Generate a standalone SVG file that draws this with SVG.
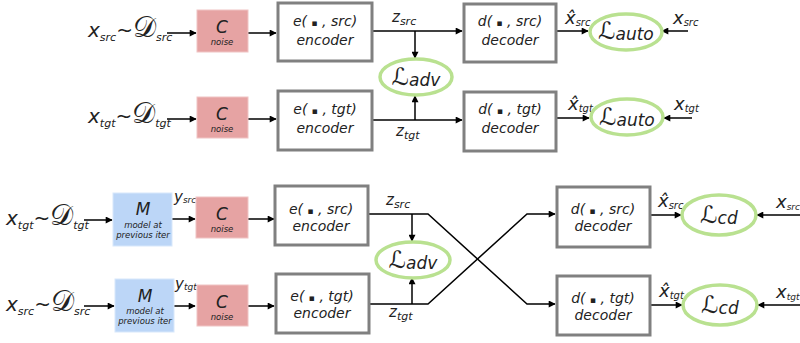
<svg xmlns="http://www.w3.org/2000/svg" width="800" height="343" viewBox="0 0 800 343">
<defs>
<marker id="ah" viewBox="0 0 10 10" refX="9" refY="5" markerWidth="8" markerHeight="7" markerUnits="userSpaceOnUse" orient="auto">
<path d="M0,0 L10,5 L0,10 z" fill="#000"/>
</marker>
<style>
text{font-family:"DejaVu Sans",sans-serif;font-style:oblique;fill:#222}
.box{fill:#fff;stroke:#808080;stroke-width:3}
.noise{fill:#e6a3a3;stroke:#f0c4c4;stroke-width:1}
.model{fill:#bcd6f7;stroke:#d8e8fb;stroke-width:1}
.loss{fill:#fff;stroke:#b9e190;stroke-width:3.5}
.lbl{font-size:14px;text-anchor:middle}
.big{font-size:17px;text-anchor:middle}
.sm{font-size:8.5px;text-anchor:middle}
.tiny{font-size:8.5px;text-anchor:middle}
.inp{font-size:20px}
.sub{font-size:11px}
.scr{font-style:normal;font-size:29px}
.L{font-style:normal;font-size:24px}
.ls{font-size:17px}
.bu{font-size:9px;font-style:normal}
.c{fill:none;stroke:#000;stroke-width:1.5}
.a{marker-end:url(#ah)}
</style>
</defs>

<g id="connectors">
<path class="c a" d="M167,33 H196"/>
<path class="c a" d="M248,33 H276"/>
<path class="c a" d="M372,31 H462"/>
<path class="c a" d="M415,31 V58"/>
<path class="c a" d="M556,31 H588"/>
<path class="c a" d="M688,31 H662"/>
<path class="c a" d="M167,119 H196"/>
<path class="c a" d="M248,119 H276"/>
<path class="c a" d="M372,120 H462"/>
<path class="c a" d="M415,120 V96"/>
<path class="c a" d="M556,118 H589"/>
<path class="c a" d="M692,118 H664"/>
<path class="c a" d="M84,220 H112"/>
<path class="c a" d="M172,219 H195"/>
<path class="c a" d="M248,219 H274"/>
<path class="c a" d="M84,306 H114"/>
<path class="c a" d="M174,306 H195"/>
<path class="c a" d="M248,306 H274"/>
<path class="c a" d="M368,214 H428 L527,304 H555"/>
<path class="c a" d="M368,304 H428 L527,214 H555"/>
<path class="c a" d="M412,214 V241"/>
<path class="c a" d="M412,304 V278"/>
<path class="c a" d="M650,215 H681"/>
<path class="c a" d="M800,215 H757"/>
<path class="c a" d="M650,305 H682"/>
<path class="c a" d="M800,305 H758"/>
</g>

<g id="in-src-top">
<text class="inp" x="88" y="37">x<tspan class="sub" dy="4">src</tspan><tspan dy="-4">~</tspan><tspan class="scr">𝒟</tspan><tspan class="sub" dy="4">src</tspan></text>
</g>
<g id="in-tgt-top">
<text class="inp" x="88" y="123">x<tspan class="sub" dy="4">tgt</tspan><tspan dy="-4">~</tspan><tspan class="scr">𝒟</tspan><tspan class="sub" dy="4">tgt</tspan></text>
</g>

<g id="noise-1">
<rect class="noise" x="197" y="10" width="51" height="42"/>
<text class="big" x="222" y="33">C</text>
<text class="sm" x="222" y="45">noise</text>
</g>
<g id="noise-2">
<rect class="noise" x="197" y="97" width="51" height="41"/>
<text class="big" x="222" y="120">C</text>
<text class="sm" x="222" y="132">noise</text>
</g>

<g id="enc-src-top">
<rect class="box" x="278" y="3" width="94" height="58"/>
<text class="lbl" x="325" y="26">e( <tspan class="bu">▪</tspan> , src)</text>
<text class="lbl" x="325" y="45">encoder</text>
</g>
<g id="enc-tgt-top">
<rect class="box" x="278" y="91" width="94" height="59"/>
<text class="lbl" x="325" y="114">e( <tspan class="bu">▪</tspan> , tgt)</text>
<text class="lbl" x="325" y="133">encoder</text>
</g>

<g id="zlabels-top">
<text x="392" y="22" style="font-size:15px">z<tspan dy="3" font-size="11">src</tspan></text>
<text x="396" y="136" style="font-size:15px">z<tspan dy="3" font-size="11">tgt</tspan></text>
</g>

<g id="adv-top">
<ellipse class="loss" cx="416" cy="77" rx="36" ry="18"/>
<text x="416" y="85" text-anchor="middle"><tspan class="L">ℒ</tspan><tspan class="ls" dy="1">adv</tspan></text>
</g>

<g id="dec-src-top">
<rect class="box" x="464" y="4" width="92" height="58"/>
<text class="lbl" x="510" y="26">d( <tspan class="bu">▪</tspan> , src)</text>
<text class="lbl" x="510" y="45">decoder</text>
</g>
<g id="dec-tgt-top">
<rect class="box" x="464" y="92" width="92" height="59"/>
<text class="lbl" x="510" y="114">d( <tspan class="bu">▪</tspan> , tgt)</text>
<text class="lbl" x="510" y="133">decoder</text>
</g>

<g id="auto-src">
<text x="565" y="24" style="font-size:18px">x̂<tspan dy="2" font-size="10">src</tspan></text>
<ellipse class="loss" cx="626" cy="32" rx="36" ry="18"/>
<text x="626" y="39" text-anchor="middle"><tspan class="L">ℒ</tspan><tspan class="ls" dy="1">auto</tspan></text>
<text x="673" y="24" style="font-size:18px">x<tspan dy="2" font-size="10">src</tspan></text>
</g>
<g id="auto-tgt">
<text x="568" y="110" style="font-size:18px">x̂<tspan dy="2" font-size="10">tgt</tspan></text>
<ellipse class="loss" cx="627" cy="117" rx="36" ry="18"/>
<text x="627" y="125" text-anchor="middle"><tspan class="L">ℒ</tspan><tspan class="ls" dy="1">auto</tspan></text>
<text x="674" y="110" style="font-size:18px">x<tspan dy="2" font-size="10">tgt</tspan></text>
</g>

<g id="in-tgt-bot">
<text class="inp" x="6" y="225">x<tspan class="sub" dy="4">tgt</tspan><tspan dy="-4">~</tspan><tspan class="scr">𝒟</tspan><tspan class="sub" dy="4">tgt</tspan></text>
</g>
<g id="in-src-bot">
<text class="inp" x="6" y="311">x<tspan class="sub" dy="4">src</tspan><tspan dy="-4">~</tspan><tspan class="scr">𝒟</tspan><tspan class="sub" dy="4">src</tspan></text>
</g>

<g id="model-1">
<rect class="model" x="113" y="193" width="59" height="53"/>
<text class="big" x="143" y="215">M</text>
<text class="tiny" x="143" y="228">model at</text>
<text class="tiny" x="143" y="238">previous iter</text>
</g>
<g id="model-2">
<rect class="model" x="115" y="279" width="59" height="53"/>
<text class="big" x="145" y="302">M</text>
<text class="tiny" x="145" y="314">model at</text>
<text class="tiny" x="145" y="324">previous iter</text>
</g>

<g id="ylabels">
<text x="174" y="202" style="font-size:15px">y<tspan dy="1" font-size="9">src</tspan></text>
<text x="175" y="289" style="font-size:15px">y<tspan dy="1" font-size="9">tgt</tspan></text>
</g>

<g id="noise-3">
<rect class="noise" x="196" y="197" width="52" height="41"/>
<text class="big" x="222" y="220">C</text>
<text class="sm" x="222" y="232">noise</text>
</g>
<g id="noise-4">
<rect class="noise" x="197" y="285" width="51" height="41"/>
<text class="big" x="222" y="308">C</text>
<text class="sm" x="222" y="320">noise</text>
</g>

<g id="enc-src-bot">
<rect class="box" x="275" y="186" width="93" height="59"/>
<text class="lbl" x="321" y="214">e( <tspan class="bu">▪</tspan> , src)</text>
<text class="lbl" x="321" y="231">encoder</text>
</g>
<g id="enc-tgt-bot">
<rect class="box" x="276" y="274" width="93" height="59"/>
<text class="lbl" x="322" y="301">e( <tspan class="bu">▪</tspan> , tgt)</text>
<text class="lbl" x="322" y="318">encoder</text>
</g>

<g id="zlabels-bot">
<text x="386" y="205" style="font-size:15px">z<tspan dy="3" font-size="11">src</tspan></text>
<text x="389" y="317" style="font-size:15px">z<tspan dy="3" font-size="11">tgt</tspan></text>
</g>

<g id="adv-bot">
<ellipse class="loss" cx="413" cy="260" rx="37" ry="18"/>
<text x="413" y="268" text-anchor="middle"><tspan class="L">ℒ</tspan><tspan class="ls" dy="1">adv</tspan></text>
</g>

<g id="dec-src-bot">
<rect class="box" x="557" y="187" width="93" height="60"/>
<text class="lbl" x="603" y="214">d( <tspan class="bu">▪</tspan> , src)</text>
<text class="lbl" x="603" y="231">decoder</text>
</g>
<g id="dec-tgt-bot">
<rect class="box" x="557" y="276" width="93" height="59"/>
<text class="lbl" x="603" y="303">d( <tspan class="bu">▪</tspan> , tgt)</text>
<text class="lbl" x="603" y="320">decoder</text>
</g>

<g id="cd-src">
<text x="658" y="207" style="font-size:18px">x̂<tspan dy="2" font-size="10">src</tspan></text>
<ellipse class="loss" cx="719" cy="215" rx="37" ry="20"/>
<text x="719" y="223" text-anchor="middle"><tspan class="L">ℒ</tspan><tspan class="ls" dy="1">cd</tspan></text>
<text x="776" y="208" style="font-size:18px">x<tspan dy="2" font-size="9">src</tspan></text>
</g>
<g id="cd-tgt">
<text x="659" y="297" style="font-size:18px">x̂<tspan dy="2" font-size="10">tgt</tspan></text>
<ellipse class="loss" cx="720" cy="305" rx="37" ry="20"/>
<text x="720" y="313" text-anchor="middle"><tspan class="L">ℒ</tspan><tspan class="ls" dy="1">cd</tspan></text>
<text x="776" y="298" style="font-size:18px">x<tspan dy="2" font-size="9">tgt</tspan></text>
</g>
</svg>
